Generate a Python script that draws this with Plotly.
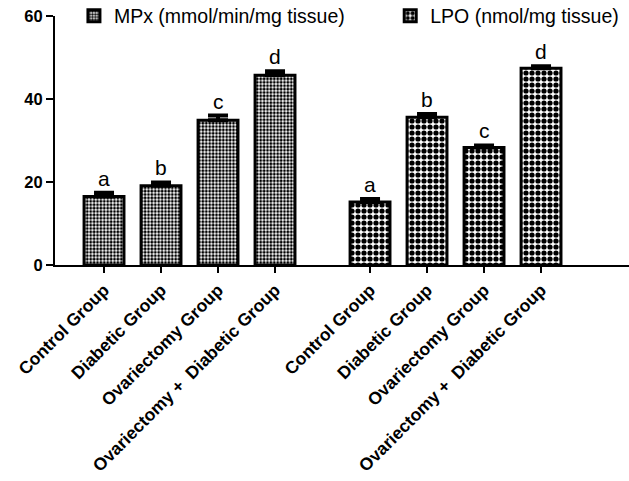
import plotly.graph_objects as go

groups = ["Control Group", "Diabetic Group", "Ovariectomy Group", "Ovariectomy + \u00a0Diabetic Group"]
series_names = ["MPx (mmol/min/mg tissue)", "LPO (nmol/mg tissue)"]
mpx_values = [16.5, 19.1, 34.9, 45.7]
mpx_errors = [0.9, 0.8, 1.1, 1.0]
lpo_values = [15.2, 35.6, 28.3, 47.4]
lpo_errors = [0.7, 0.8, 0.5, 0.5]
mpx_letters = ["a", "b", "c", "d"]
lpo_letters = ["a", "b", "c", "d"]
y_ticks = [0, 20, 40, 60]

FONT = "Liberation Sans, Arial, sans-serif"
gap = 2 / 3.0
x_mpx = [i for i in range(len(groups))]
x_lpo = [i + len(groups) + gap for i in range(len(groups))]

fig = go.Figure()
specs = [
    (series_names[0], "legend", x_mpx, mpx_values, mpx_errors, mpx_letters, dict(shape=".", size=3.4, solidity=0.55)),
    (series_names[1], "legend2", x_lpo, lpo_values, lpo_errors, lpo_letters, dict(shape=".", size=6.0, solidity=0.6)),
]
for name, leg, xs, vals, errs, letters, pat in specs:
    fig.add_trace(go.Bar(
        x=xs, y=vals, name=name, width=0.7, legend=leg,
        marker=dict(color="white",
                    line=dict(color="black", width=3),
                    pattern=dict(fgcolor="black", bgcolor="white", fillmode="replace", **pat)),
        error_y=dict(type="data", symmetric=False, array=errs, arrayminus=[0] * len(errs),
                     color="black", thickness=4, width=10),
    ))
    for x, v, e, t in zip(xs, vals, errs, letters):
        fig.add_annotation(x=x, y=v + e, text=t, showarrow=False, yanchor="bottom", yshift=1,
                           font=dict(family=FONT, size=21, color="black"))

legend_common = dict(orientation="h", y=1.0, yanchor="middle", xanchor="left",
                     font=dict(family=FONT, size=19.5, color="black"),
                     bgcolor="rgba(0,0,0,0)", itemwidth=30)

fig.update_layout(
    width=629, height=481,
    margin=dict(l=55, r=0, t=16, b=216, autoexpand=False),
    paper_bgcolor="white", plot_bgcolor="white",
    barmode="overlay", showlegend=True,
    legend=dict(x=0.033, **legend_common),
    legend2=dict(x=0.584, **legend_common),
    xaxis=dict(range=[-0.86, 9.21], tickmode="array", tickvals=x_mpx + x_lpo, ticktext=groups + groups,
               tickangle=-45, ticks="outside", ticklen=6, tickwidth=2, tickcolor="black",
               showline=True, linecolor="black", linewidth=2, showgrid=False, zeroline=False,
               automargin=False,
               tickfont=dict(family=FONT, size=17.5, color="black", weight="bold")),
    yaxis=dict(range=[0, 60], tickmode="array", tickvals=y_ticks, ticks="outside", ticklen=7, tickwidth=2,
               tickcolor="black", showline=True, linecolor="black", linewidth=2, showgrid=False,
               zeroline=False, automargin=False,
               tickfont=dict(family=FONT, size=16.5, color="black", weight="bold")),
)
fig.write_html("out.html")
